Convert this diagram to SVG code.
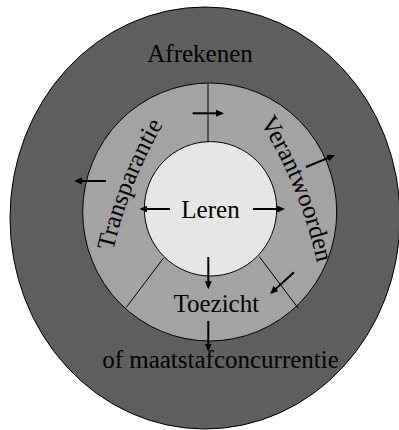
<svg xmlns="http://www.w3.org/2000/svg" xmlns:xlink="http://www.w3.org/1999/xlink" width="399" height="430" viewBox="0 0 399 430">
<style>
.shape{stroke:#000;stroke-width:1}
.lbl{font-family:"Liberation Serif","Times New Roman",serif;font-size:25px;fill:#000}
.mid{text-anchor:middle}
.arr{stroke:#000;stroke-width:2;fill:none;marker-end:url(#ah)}
.sep{stroke:#000;stroke-width:1;fill:none}
</style>
<defs>
<marker id="ah" markerUnits="userSpaceOnUse" markerWidth="9" markerHeight="8" refX="6" refY="3.5" orient="auto">
<path d="M0,0 L8,3.5 L0,7 z" fill="#000"/>
</marker>
<path id="pTrans" d="M 113 251 A 450 450 0 0 1 172 110"/>
<path id="pVer" d="M 260 122 A 450 450 0 0 1 322 290"/>
</defs>
<rect width="399" height="430" fill="#fff"/>
<g id="afrekenen">
<ellipse class="shape" cx="205" cy="218" rx="195" ry="211" fill="#5f5f5f"/>
<text class="lbl mid" x="200" y="62">Afrekenen</text>
<text class="lbl mid" x="220.5" y="368">of maatstafconcurrentie</text>
</g>
<g id="middenring">
<ellipse class="shape" cx="209.7" cy="212" rx="127" ry="129" fill="#a3a3a3"/>
</g>
<g id="leren">
<ellipse class="shape" cx="210.5" cy="208.8" rx="66.2" ry="67.2" fill="#e6e6e6"/>
<text class="lbl mid" x="210.5" y="218">Leren</text>
</g>
<g id="transparantie">
<text class="lbl"><textPath xlink:href="#pTrans" href="#pTrans">Transparantie</textPath></text>
</g>
<g id="verantwoorden">
<text class="lbl"><textPath xlink:href="#pVer" href="#pVer">Verantwoorden</textPath></text>
</g>
<g id="toezicht">
<text class="lbl mid" x="216.3" y="311.5">Toezicht</text>
</g>
<g id="connectors">
<line class="sep" x1="208" y1="83.3" x2="208" y2="142"/>
<line class="sep" x1="163.3" y1="258.3" x2="126" y2="307.7"/>
<line class="sep" x1="259.3" y1="256.7" x2="298.3" y2="308.3"/>
<line class="arr" x1="192.7" y1="113.3" x2="222" y2="113.3"/>
<line class="arr" x1="106" y1="181" x2="76" y2="181"/>
<line class="arr" x1="306" y1="167" x2="333.2" y2="155.8"/>
<line class="arr" x1="170" y1="209" x2="141.3" y2="209"/>
<line class="arr" x1="253" y1="209" x2="283" y2="209"/>
<line class="arr" x1="208.3" y1="257" x2="208.3" y2="287.3"/>
<line class="arr" x1="294" y1="272.3" x2="271.5" y2="292.7"/>
<line class="arr" x1="208.3" y1="321" x2="208.3" y2="349.7"/>
</g>
</svg>
